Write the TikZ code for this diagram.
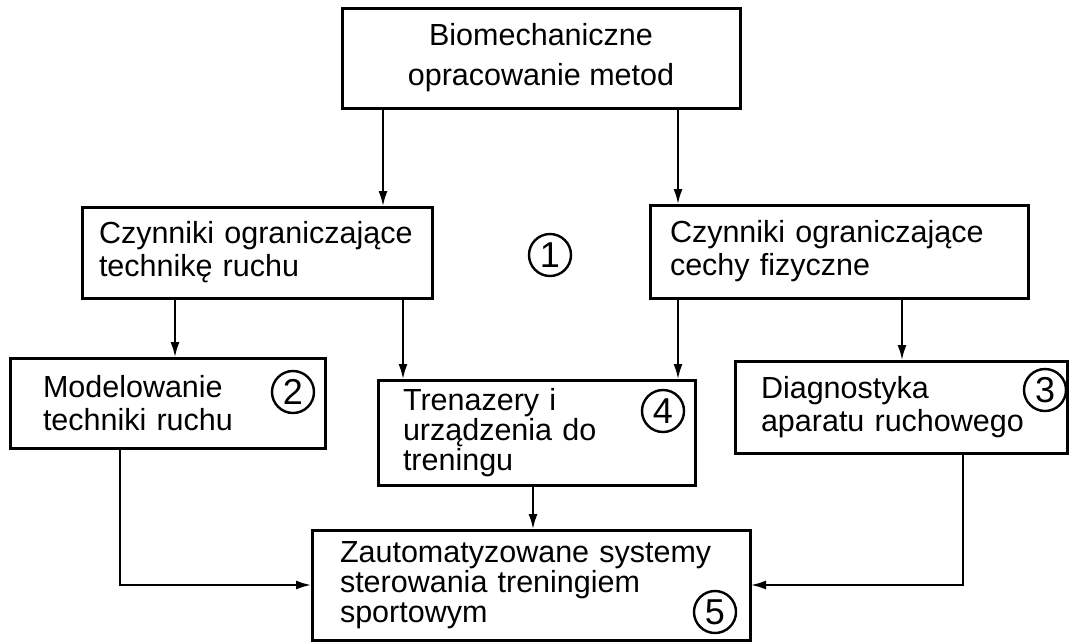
\documentclass[tikz,border=0pt]{standalone}
\usepackage{fontspec}
\setmainfont{Liberation Sans}
\usetikzlibrary{arrows.meta}
\newcommand{\boxfont}{\fontsize{30.5}{33}\selectfont}
\newcommand{\numfont}{\fontsize{36}{36}\selectfont}

\begin{document}
\begin{tikzpicture}[
    x=1pt, y=-1pt,
    % Styles
    box/.style={
        rectangle, draw=black, line width=3pt,
        align=left, inner sep=0pt, outer sep=0pt, font=\boxfont
    },
    num/.style={
        circle, draw=black, line width=2.4pt,
        minimum size=42pt, inner sep=0pt, font=\numfont
    },
    arrow/.style={
        -{Latex[length=16pt, width=9pt]}, line width=2.8pt
    }
]
    \useasboundingbox (0,0) rectangle (1070,643);

    % --- Top ---
    \node[box, align=center, minimum width=398pt, minimum height=100pt] (bio) at (541,58)
        {Biomechaniczne\\[7pt] opracowanie metod};

    % --- Second row ---
    \node[box, minimum width=350pt, minimum height=91pt, text width=316pt] (techn) at (257,252.5)
        {Czynniki ograniczające\\ technikę ruchu};
    \node[box, minimum width=378pt, minimum height=93pt, text width=338pt] (fiz) at (839,251.5)
        {Czynniki ograniczające\\ cechy fizyczne};
    \node[num] (n1) at (550,255) {1};

    % --- Third row ---
    \node[box, minimum width=315pt, minimum height=90pt, text width=249pt] (model) at (167.5,403)
        {Modelowanie\\ techniki ruchu};
    \node[box, minimum width=317pt, minimum height=105pt, text width=267pt] (tren) at (536.5,432.5)
        {Trenazery i\\[-3pt] urządzenia do\\[-3pt] treningu};
    \node[box, minimum width=332pt, minimum height=92pt, text width=280pt] (diag) at (901,407)
        {Diagnostyka\\ aparatu ruchowego};
    \node[num] (n2) at (293,392) {2};
    \node[num] (n4) at (663,411) {4};
    \node[num] (n3) at (1045,390) {3};

    % --- Bottom ---
    \node[box, minimum width=438pt, minimum height=110pt, text width=382pt] (auto) at (531,585)
        {Zautomatyzowane systemy\\[-3pt] sterowania treningiem\\[-3pt] sportowym};
    \node[num] (n5) at (715,612) {5};

    % --- Connectors ---
    \draw[arrow] ([xshift=41pt]bio.south west) -- ([xshift=41pt]bio.south west |- techn.north);
    \draw[arrow] ([xshift=336pt]bio.south west) -- ([xshift=336pt]bio.south west |- fiz.north);

    \draw[arrow] ([xshift=93pt]techn.south west) -- ([xshift=93pt]techn.south west |- model.north);
    \draw[arrow] ([xshift=321pt]techn.south west) -- ([xshift=321pt]techn.south west |- tren.north);
    \draw[arrow] ([xshift=28pt]fiz.south west) -- ([xshift=28pt]fiz.south west |- tren.north);
    \draw[arrow] ([xshift=252pt]fiz.south west) -- ([xshift=252pt]fiz.south west |- diag.north);

    \draw[arrow] ([xshift=155pt]tren.south west) -- ([xshift=155pt]tren.south west |- auto.north);
    \draw[arrow] ([xshift=110pt]model.south west) |- (auto.west);
    \draw[arrow] ([xshift=228pt]diag.south west) |- (auto.east);

\end{tikzpicture}
\end{document}
